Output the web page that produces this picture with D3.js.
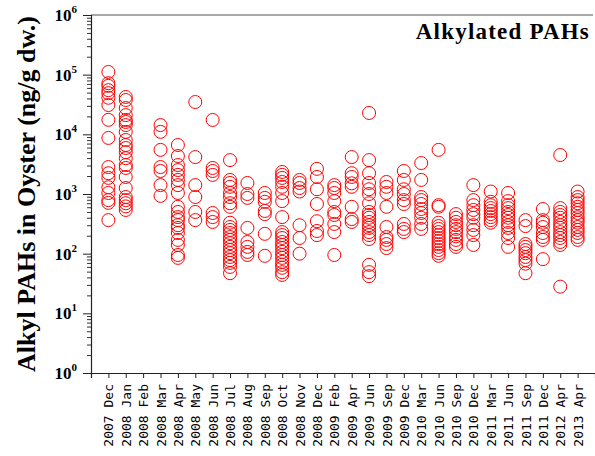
<!DOCTYPE html>
<html>
<head>
<meta charset="utf-8">
<script src="https://cdn.jsdelivr.net/npm/d3@7"></script>
<style>
  body { margin: 0; background: #fff; }
  svg { display: block; }
</style>
</head>
<body>
<svg id="chart" width="595" height="456"></svg>
<script>
// sampling dates, one column of circles each
const categories = [
  "2007 Dec", "2008 Jan", "2008 Feb", "2008 Mar", "2008 Apr", "2008 May", "2008 Jun",
  "2008 Jul", "2008 Aug", "2008 Sep", "2008 Oct", "2008 Nov", "2008 Dec", "2009 Feb",
  "2009 Apr", "2009 Jun", "2009 Sep", "2009 Dec", "2010 Mar", "2010 Jun", "2010 Sep",
  "2010 Dec", "2011 Mar", "2011 Jun", "2011 Sep", "2011 Dec", "2012 Apr", "2013 Apr",
];

// alkylated PAHs (ng/g dw.), one list per date
const alkylPAHs = [
  [111000, 72000, 65000, 55000, 49000, 41000, 31000, 17500, 8700, 2830, 2230, 1860, 1300, 1040, 790, 710, 365],
  [42300, 37600, 27600, 21000, 17400, 16100, 14300, 11000, 8040, 6620, 5900, 5020, 3980, 3060, 2730, 1930, 1260, 890, 790, 700, 620, 540],
  [],
  [14300, 11000, 5490, 2830, 2430, 1410, 930],
  [6620, 4330, 3060, 2520, 2090, 1720, 1410, 1040, 610, 500, 410, 365, 300, 270, 222, 170, 140, 95, 85],
  [34800, 4160, 1410, 890, 500, 365],
  [17400, 2730, 2430, 2090, 480, 410, 340],
  [3700, 1720, 1530, 1320, 1040, 890, 700, 610, 330, 280, 250, 222, 190, 170, 150, 130, 115, 102, 88, 78, 70, 60, 47],
  [1530, 1000, 860, 270, 157, 130, 107, 95],
  [1040, 860, 740, 520, 460, 215, 92],
  [2340, 2090, 1860, 1590, 1320, 1040, 760, 410, 230, 205, 183, 157, 140, 124, 107, 95, 85, 73, 65, 58, 49, 44],
  [1720, 1530, 1260, 1100, 300, 183, 100],
  [2640, 1930, 1200, 680, 350, 240, 205],
  [1410, 1260, 1040, 760, 500, 445, 315, 230, 95],
  [4160, 2230, 1930, 1510, 1320, 610, 380, 340],
  [22800, 3700, 2230, 1530, 1200, 1000, 700, 500, 445, 400, 340, 300, 270, 230, 205, 176, 65, 49, 42],
  [1590, 1320, 1040, 610, 280, 190, 170, 145, 124],
  [2430, 1720, 1200, 1000, 790, 680, 315, 260, 230],
  [3300, 1720, 890, 790, 680, 560, 480, 400, 315, 260],
  [5490, 650, 610, 330, 290, 260, 230, 205, 183, 163, 145, 130, 115, 102, 92],
  [460, 400, 340, 300, 260, 230, 195, 170, 145, 130],
  [1410, 790, 650, 540, 460, 400, 300, 250, 205, 140],
  [1100, 740, 650, 580, 520, 460, 410, 365, 330],
  [1040, 760, 650, 580, 500, 445, 400, 340, 300, 270, 222, 183, 130],
  [365, 290, 145, 130, 115, 102, 88, 78, 68, 47],
  [560, 365, 330, 280, 222, 190, 170, 81],
  [4500, 580, 500, 445, 400, 340, 300, 270, 230, 205, 183, 157, 140, 28],
  [1100, 890, 790, 700, 610, 540, 480, 410, 365, 330, 280, 250, 222, 190, 170],
];

const yTickExponents = [0, 1, 2, 3, 4, 5, 6];

const svg = d3.select("#chart");
const margin = { top: 15, right: 2, bottom: 83, left: 91 };
const width = 595 - margin.left - margin.right;
const height = 456 - margin.top - margin.bottom;

const g = svg.append("g").attr("transform", `translate(${margin.left},${margin.top})`);

// index scale with one empty slot on each side
const step = 504 / (categories.length + 1);
const xScale = d3.scaleLinear()
  .domain([-1, categories.length])
  .range([0, step * (categories.length + 1)]);

const yScale = d3.scaleLog().domain([1, 1e6]).range([height, 0]);

const points = alkylPAHs.flatMap((vals, i) => vals.map((v) => ({ i, v })));

// * points
g.append("g")
  .selectAll("circle")
  .data(points)
  .enter()
  .append("circle")
  .attr("cx", (d) => xScale(d.i))
  .attr("cy", (d) => yScale(d.v))
  .attr("r", 6.5)
  .style("fill", "none")
  .style("stroke", "#ff0000")
  .style("stroke-width", 1);

// * top frame line
g.append("line")
  .attr("x1", 0).attr("x2", width)
  .attr("y1", 0).attr("y2", 0)
  .style("stroke", "#555")
  .style("stroke-width", 1.2);

// * y axis (log, with minor ticks)
const minorTicks = [];
for (let e = 0; e < 6; e++) {
  for (let m = 2; m <= 9; m++) minorTicks.push(m * Math.pow(10, e));
}
const yMinor = g.append("g")
  .call(d3.axisLeft(yScale).tickValues(minorTicks).tickSize(4).tickFormat(""));
yMinor.select(".domain").remove();
yMinor.selectAll("line").style("stroke", "#333");

const yAxis = g.append("g")
  .call(d3.axisLeft(yScale)
    .tickValues(yTickExponents.map((e) => Math.pow(10, e)))
    .tickSize(8)
    .tickFormat(""));
yAxis.select(".domain").style("stroke", "#222").style("stroke-width", 1.2);
yAxis.selectAll("line").style("stroke", "#222");

const yLabels = g.append("g")
  .selectAll("text")
  .data(yTickExponents)
  .enter()
  .append("text")
  .attr("x", -14)
  .attr("y", (e) => yScale(Math.pow(10, e)) + 6)
  .attr("text-anchor", "end")
  .style("font-family", "'Liberation Serif', 'Times New Roman', serif")
  .style("font-weight", "bold")
  .style("font-size", "17px");
yLabels.append("tspan").text("10");
yLabels.append("tspan")
  .attr("dy", -8)
  .style("font-size", "11px")
  .text((e) => e);

// * x axis
const xAxis = g.append("g")
  .attr("transform", `translate(0,${height})`)
  .call(d3.axisBottom(xScale)
    .tickValues(d3.range(categories.length))
    .tickSize(5)
    .tickFormat((i) => categories[i]));
xAxis.select(".domain").style("stroke", "#222").style("stroke-width", 1.2);
xAxis.selectAll("line").style("stroke", "#222");
xAxis.selectAll("text")
  .attr("transform", "rotate(-90)")
  .attr("x", -11)
  .attr("y", 0)
  .attr("dy", "0.35em")
  .attr("text-anchor", "end")
  .style("font-family", "'DejaVu Sans Mono', monospace")
  .style("font-size", "13px")
  .style("fill", "#000");

// * y title
svg.append("text")
  .attr("transform", `translate(35,${margin.top + height / 2}) rotate(-90)`)
  .attr("text-anchor", "middle")
  .style("font-family", "'Liberation Serif', 'Times New Roman', serif")
  .style("font-weight", "bold")
  .style("font-size", "26px")
  .text("Alkyl PAHs in Oyster (ng/g dw.)");

// * panel title
svg.append("text")
  .attr("x", 590)
  .attr("y", 39)
  .attr("text-anchor", "end")
  .style("font-family", "'Liberation Serif', 'Times New Roman', serif")
  .style("font-weight", "bold")
  .style("font-size", "23px")
  .style("letter-spacing", "1.2px")
  .text("Alkylated PAHs");
</script>
</body>
</html>
